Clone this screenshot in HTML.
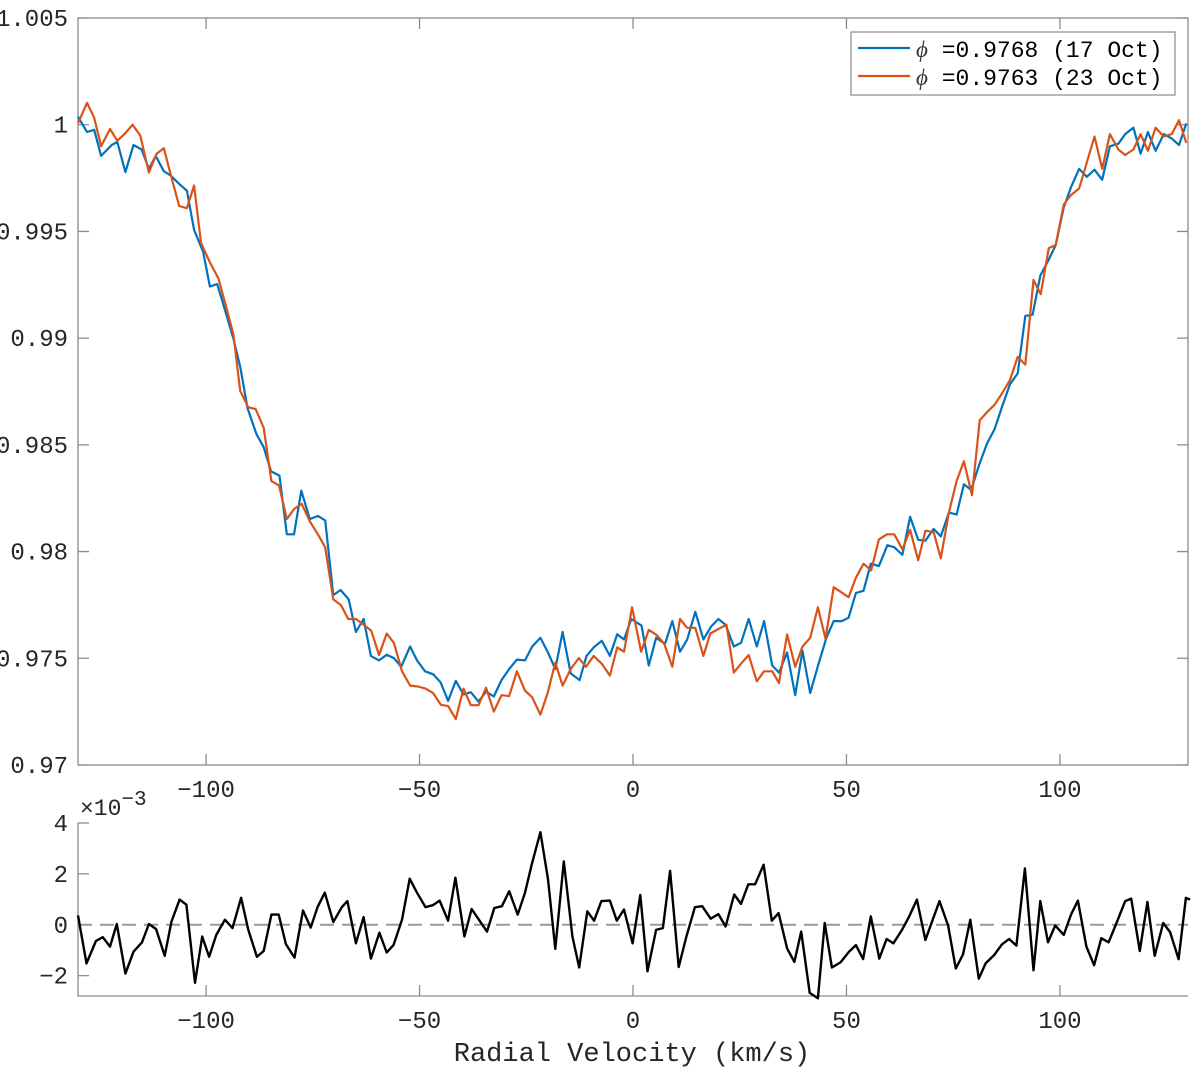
<!DOCTYPE html>
<html><head><meta charset="utf-8"><style>
html,body{margin:0;padding:0;background:#fff;}
svg{display:block;font-family:"Liberation Mono",monospace;}
</style></head><body>
<svg id="chart" width="1200" height="1076" viewBox="0 0 1200 1076" xmlns="http://www.w3.org/2000/svg">
<g id="top"></g>
<g id="bot"></g>
<g id="legend">
<rect x="851" y="32" width="324" height="63" fill="#fff" stroke="#8a8a8a" stroke-width="1.2"/>
<line x1="858" y1="48" x2="910" y2="48" stroke="#0072BD" stroke-width="2.2"/>
<text x="916" y="57" font-size="23" fill="#000"><tspan font-family="Liberation Serif,serif" font-style="italic" fill="#333">ϕ</tspan> =0.9768 (17 Oct)</text>
<line x1="858" y1="76" x2="910" y2="76" stroke="#D95319" stroke-width="2.2"/>
<text x="916" y="85" font-size="23" fill="#000"><tspan font-family="Liberation Serif,serif" font-style="italic" fill="#333">ϕ</tspan> =0.9763 (23 Oct)</text>
</g>
<text x="632" y="1061" font-size="27" text-anchor="middle" fill="#262626">Radial Velocity (km/s)</text>
<text x="80" y="815" font-size="23" fill="#262626">×10<tspan dy="-10" font-size="21">−3</tspan></text>
</svg>
<script>
const velBlue=[-130,-127.9,-126.2,-124.6,-122.1,-120.8,-118.9,-117,-115.1,-113.4,-111.8,-109.9,-108.3,-106.2,-104.5,-102.8,-100.7,-99.1,-97.4,-95.7,-93.6,-92,-90.3,-88.2,-86.5,-84.8,-82.8,-81.1,-79.4,-77.7,-75.7,-73.8,-72.1,-70.2,-68.5,-66.6,-64.9,-63.1,-61.4,-59.5,-57.7,-56,-54.3,-52.2,-50.6,-48.7,-46.8,-45.1,-43.3,-41.5,-39.7,-38,-36.2,-34.4,-32.6,-30.8,-29,-27.2,-25.3,-23.6,-21.7,-20,-18.2,-16.5,-14.6,-12.5,-10.9,-9.2,-7.3,-5.4,-3.7,-2.1,-0.4,2,3.7,5.4,7.5,9.2,11,12.7,14.6,16.5,18.3,20,21.7,23.6,25.3,27.1,29,30.7,32.6,34.2,36.1,38,39.7,41.5,43.4,45.3,47,48.9,50.5,52.2,54,55.7,57.6,59.6,61.2,63.1,64.9,66.8,68.5,70.4,72.1,74,75.8,77.5,79.2,81.1,82.9,84.7,86.5,88.3,90.1,91.9,93.6,95.4,97.2,99,100.9,102.6,104.5,106.3,108.1,109.9,111.7,113.7,115.3,117.2,118.9,120.6,122.4,124.3,126.2,127.9,129.6];
const fluxBlue=[1.00037,0.99966,0.99976,0.99854,0.99905,0.99919,0.99778,0.99905,0.99884,0.99793,0.99854,0.99782,0.99762,0.99721,0.99691,0.99507,0.99405,0.99242,0.99253,0.99141,0.98998,0.98866,0.98672,0.9855,0.98489,0.98376,0.98356,0.98081,0.98081,0.98285,0.98152,0.98167,0.98146,0.97796,0.9782,0.97776,0.97623,0.97684,0.97511,0.9749,0.97517,0.97501,0.9746,0.97555,0.9749,0.97439,0.97425,0.97388,0.97301,0.97394,0.97331,0.97341,0.97297,0.97344,0.97321,0.97398,0.9745,0.97494,0.9749,0.97555,0.97596,0.97531,0.9745,0.97623,0.97429,0.97398,0.97511,0.97551,0.97582,0.97511,0.97613,0.97588,0.97684,0.97653,0.97466,0.97596,0.97568,0.97674,0.97531,0.97588,0.97718,0.97588,0.97649,0.97684,0.97657,0.97555,0.97572,0.97684,0.97555,0.97674,0.97466,0.97433,0.97527,0.97327,0.97535,0.97337,0.9747,0.97596,0.97674,0.97674,0.9769,0.97806,0.97816,0.97943,0.97932,0.9803,0.9802,0.97985,0.98163,0.98055,0.98051,0.98106,0.98071,0.98183,0.98173,0.98315,0.98289,0.98407,0.98505,0.98574,0.98682,0.98784,0.98835,0.99104,0.9911,0.99293,0.99361,0.99436,0.99613,0.99707,0.99793,0.99756,0.99789,0.99742,0.99899,0.99911,0.99956,0.99986,0.99864,0.99966,0.99878,0.99956,0.99935,0.99905,1.00006];
const velOrange=[-130,-127.9,-126.2,-124.6,-122.5,-120.8,-119.1,-117.2,-115.4,-113.4,-111.6,-109.9,-108.1,-106.3,-104.5,-102.8,-101.2,-99.1,-97.1,-95.5,-93.6,-92,-90.1,-88.4,-86.5,-84.7,-82.9,-81.1,-79.4,-77.6,-75.7,-73.8,-72.1,-70.2,-68.4,-66.7,-64.9,-63.1,-61.3,-59.5,-57.7,-56,-54.1,-52.2,-50.4,-48.6,-46.8,-45,-43.3,-41.5,-39.7,-38,-36.2,-34.4,-32.6,-30.8,-29,-27.2,-25.3,-23.6,-21.7,-20,-18.2,-16.5,-14.6,-12.7,-11,-9.2,-7.3,-5.4,-3.7,-2.1,-0.2,1.9,3.7,5.6,7.3,9.2,11,12.7,14.6,16.5,18.1,20,21.9,23.6,25.5,27.1,29,30.7,32.6,34.2,36.1,38,39.7,41.5,43.3,45.1,47,50.5,52.2,54,55.8,57.6,59.5,61.2,63.1,64.9,66.8,68.5,70.4,72.1,74,75.8,77.5,79.4,81.2,82.9,84.7,86.5,88.3,90.1,91.9,93.8,95.5,97.4,99,100.9,102.6,104.5,106.3,108.1,109.9,111.7,113.7,115.3,117.2,118.9,120.6,122.4,124.3,126.2,127.9,129.6];
const fluxOrange=[1.00007,1.00102,1.00033,0.99899,0.9998,0.99925,0.99956,1,0.99949,0.99776,0.99864,0.9989,0.99752,0.99619,0.99609,0.99715,0.99446,0.99355,0.99279,0.99161,0.99018,0.98753,0.98676,0.98668,0.9858,0.9833,0.98309,0.98152,0.98199,0.98224,0.98142,0.98081,0.9802,0.97776,0.97749,0.97684,0.97684,0.97657,0.97629,0.97515,0.97616,0.97572,0.97439,0.97372,0.97368,0.97358,0.97337,0.97282,0.97276,0.97215,0.97358,0.9728,0.9728,0.97362,0.9725,0.97327,0.97323,0.97439,0.97348,0.97317,0.97236,0.97337,0.9748,0.97372,0.9745,0.97501,0.9746,0.97511,0.97474,0.97419,0.97551,0.97531,0.97739,0.97531,0.97633,0.97608,0.97568,0.9746,0.97684,0.97643,0.97643,0.97511,0.97616,0.97637,0.97657,0.97433,0.9748,0.97515,0.97392,0.97439,0.97439,0.97384,0.97612,0.9746,0.97555,0.97596,0.97739,0.97592,0.97833,0.97786,0.97877,0.97943,0.97912,0.98057,0.98081,0.98081,0.9801,0.98102,0.97959,0.98098,0.98091,0.97969,0.98183,0.9833,0.98423,0.98264,0.98615,0.98652,0.98688,0.98743,0.98804,0.98912,0.98876,0.99273,0.99206,0.99422,0.99436,0.99626,0.9967,0.99701,0.99823,0.99945,0.99793,0.99956,0.99884,0.99858,0.99884,0.99956,0.99878,0.99986,0.99945,0.99956,1.00021,0.99915];
const velResid=[-130,-128,-125.8,-124.2,-122.5,-120.9,-118.9,-117,-115,-113.4,-111.7,-109.7,-108.1,-106.2,-104.6,-102.6,-100.9,-99.3,-97.6,-95.6,-93.8,-91.8,-90.1,-88.1,-86.5,-84.7,-83,-81.3,-79.3,-77.3,-75.5,-73.9,-72.2,-70.2,-68.2,-66.9,-64.9,-63.1,-61.4,-59.4,-57.7,-56.1,-54.1,-52.3,-50.6,-48.6,-46.9,-45.3,-43.3,-41.6,-39.5,-37.8,-36.1,-34.2,-32.5,-30.7,-29,-27,-25.3,-23.7,-21.7,-19.9,-18.2,-16.2,-14.2,-12.6,-10.7,-9.1,-7.4,-5.4,-3.8,-2.1,-0.1,1.7,3.4,5.4,7,8.7,10.7,12.5,14.5,16.2,18.2,20,21.7,23.7,25.3,27,28.6,30.6,32.5,34.1,36.1,37.8,39.4,41.4,43.3,44.9,46.6,48.6,50.6,52.2,53.9,55.7,57.7,59.4,61,63,64.7,66.5,68.5,70.2,71.8,73.8,75.6,77.3,79,81,82.6,84.6,86.4,88.1,89.8,91.8,93.8,95.4,97.2,98.9,100.9,102.6,104.2,106.2,108,109.7,111.4,113.4,115.3,116.7,118.7,120.5,122.2,124.2,125.8,127.8,129.5,130.5];
const residE3=[0.37,-1.52,-0.64,-0.49,-0.86,0.03,-1.92,-1.06,-0.69,0.03,-0.17,-1.22,0.13,0.99,0.79,-2.28,-0.46,-1.26,-0.4,0.2,-0.13,1.06,-0.2,-1.26,-1.03,0.4,0.4,-0.76,-1.29,0.56,-0.11,0.69,1.26,0.11,0.69,0.93,-0.73,0.3,-1.33,-0.31,-1.09,-0.8,0.2,1.81,1.26,0.69,0.77,0.95,0.16,1.85,-0.46,0.62,0.2,-0.27,0.66,0.73,1.32,0.4,1.26,2.38,3.64,1.79,-0.95,2.49,-0.46,-1.68,0.53,0.16,0.93,0.95,0.16,0.6,-0.73,1.17,-1.83,-0.2,-0.13,2.12,-1.66,-0.46,0.69,0.73,0.24,0.42,-0.07,1.19,0.82,1.59,1.59,2.36,0.16,0.46,-0.93,-1.46,-0.27,-2.68,-2.89,0.07,-1.68,-1.48,-1.06,-0.8,-1.35,0.33,-1.33,-0.56,-0.73,-0.2,0.33,0.99,-0.6,0.2,0.93,-0.03,-1.72,-1.17,0.2,-2.12,-1.52,-1.19,-0.77,-0.56,-0.82,2.21,-1.79,0.93,-0.69,-0.03,-0.4,0.4,0.95,-0.86,-1.59,-0.53,-0.69,0.13,0.93,1.03,-1.03,0.9,-1.22,0.07,-0.29,-1.35,1.06,0.99];
const xTicks=[-100,-50,0,50,100];
const xTickLabels=["\u2212100","\u221250","0","50","100"];
const yTicksTop=[0.97,0.975,0.98,0.985,0.99,0.995,1,1.005];
const yTickLabelsTop=["0.97","0.975","0.98","0.985","0.99","0.995","1","1.005"];
const yTicksBot=[-2,0,2,4];
const yTickLabelsBot=["\u22122","0","2","4"];

const NS="http://www.w3.org/2000/svg";
const L=78,R=1188;
const X=v=>L+(v+130)/260*(R-L);
const T0=18,T1=765;
const YT=f=>T1-(f-0.97)/0.035*(T1-T0);
const B0=823,B1=996;
const YB=r=>B1-(r+2.8)/6.8*(B1-B0);
function mk(tag,attrs,parent){const e=document.createElementNS(NS,tag);for(const k in attrs)e.setAttribute(k,attrs[k]);parent.appendChild(e);return e;}
const topG=document.getElementById('top'),botG=document.getElementById('bot');
const AX="#8c8c8c",TX="#262626";
let el=mk('rect',{x:L,y:T0,width:R-L,height:T1-T0,fill:'none',stroke:AX,'stroke-width':1.3},topG);


xTicks.forEach((v,i)=>{
  let t=mk('path',{d:`M${X(v)},${T1}v-11M${X(v)},${T0}v11`,stroke:AX,'stroke-width':1.3},topG);
  
  
  let s=mk('text',{x:X(v),y:797,'font-size':24,'text-anchor':'middle',fill:TX},topG);
  s.textContent=xTickLabels[i];
  
  
  let t2=mk('path',{d:`M${X(v)},${B1}v-11`,stroke:AX,'stroke-width':1.3},botG);
  
  
  let s2=mk('text',{x:X(v),y:1028,'font-size':24,'text-anchor':'middle',fill:TX},botG);
  s2.textContent=xTickLabels[i];
  
  
});
yTicksTop.forEach((f,i)=>{
  let t=mk('path',{d:`M${L},${YT(f)}h11M${R},${YT(f)}h-11`,stroke:AX,'stroke-width':1.3},topG);
  
  
  let s=mk('text',{x:68,y:YT(f)+8,'font-size':24,'text-anchor':'end',fill:TX},topG);
  s.textContent=yTickLabelsTop[i];
  
  
});
function series(vs,fs,yf,color,name,parent,w){
  let d=vs.map((v,i)=>(i?'L':'M')+X(v).toFixed(1)+','+yf(fs[i]).toFixed(1)).join('');
  let p=mk('path',{d:d,fill:'none',stroke:color,'stroke-width':w,'stroke-linejoin':'round'},parent);
  
  
}
series(velBlue,fluxBlue,YT,'#0072BD','series-17oct',topG,2.2);
series(velOrange,fluxOrange,YT,'#D95319','series-23oct',topG,2.2);
let ax=mk('path',{d:`M${L},${B0}V${B1}H${R}`,fill:'none',stroke:AX,'stroke-width':1.3},botG);


yTicksBot.forEach((r,i)=>{
  let t=mk('path',{d:`M${L},${YB(r)}h11`,stroke:AX,'stroke-width':1.3},botG);
  
  
  let s=mk('text',{x:68,y:YB(r)+8,'font-size':24,'text-anchor':'end',fill:TX},botG);
  s.textContent=yTickLabelsBot[i];
  
  
});
let z=mk('line',{x1:L,x2:R,y1:YB(0),y2:YB(0),stroke:'#999','stroke-width':2,'stroke-dasharray':'14,8'},botG);


series(velResid,residE3,YB,'#000','residual-series',botG,2.4);
</script>
</body></html>
